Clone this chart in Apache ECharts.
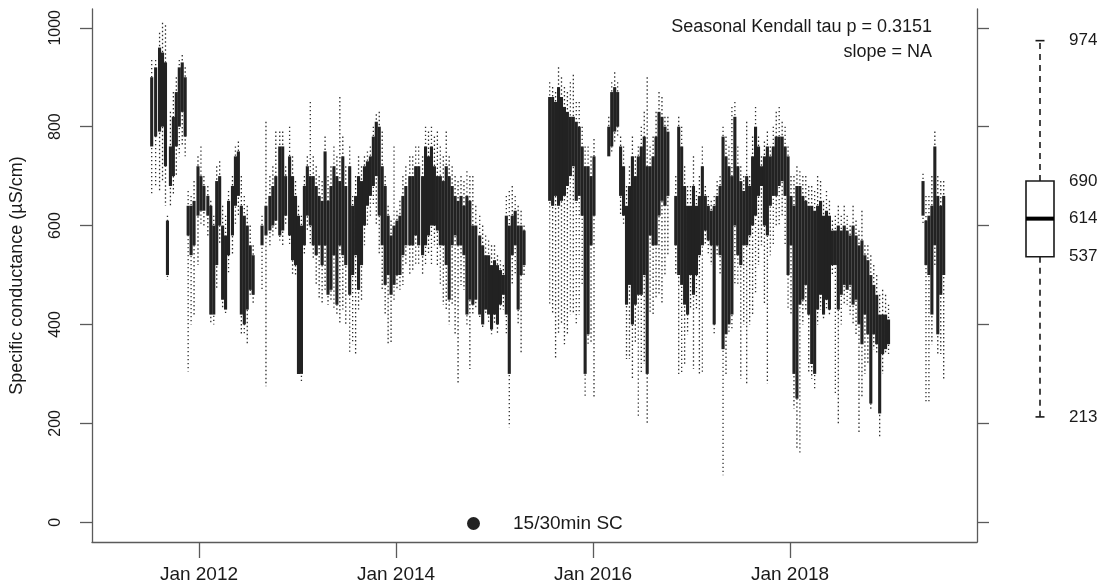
<!DOCTYPE html>
<html>
<head>
<meta charset="utf-8">
<script src="https://cdn.jsdelivr.net/npm/echarts@6/dist/echarts.min.js"></script>
<style>
  html, body { margin: 0; padding: 0; background: #fff; }
  #chart { width: 1108px; height: 588px; }
</style>
</head>
<body>
<div id="chart"></div>
<script>
// time position as decimal year
const yearPos = [
  2011.52, 2011.56, 2011.60, 2011.63, 2011.66, 2011.68, 2011.71, 2011.74, 2011.77, 2011.80,
  2011.83, 2011.86, 2011.89, 2011.92, 2011.95, 2011.99, 2012.02, 2012.05, 2012.09, 2012.12,
  2012.15, 2012.18, 2012.21, 2012.24, 2012.27, 2012.30, 2012.34, 2012.37, 2012.40, 2012.43,
  2012.46, 2012.49, 2012.52, 2012.55, 2012.64, 2012.68, 2012.72, 2012.75, 2012.78, 2012.82,
  2012.85, 2012.88, 2012.92, 2012.95, 2012.98, 2013.01, 2013.04, 2013.07, 2013.10, 2013.13,
  2013.16, 2013.19, 2013.22, 2013.25, 2013.28, 2013.31, 2013.34, 2013.37, 2013.40, 2013.43,
  2013.46, 2013.49, 2013.53, 2013.56, 2013.59, 2013.62, 2013.65, 2013.68, 2013.71, 2013.74,
  2013.77, 2013.80, 2013.83, 2013.86, 2013.89, 2013.92, 2013.95, 2013.98, 2014.01, 2014.04,
  2014.07, 2014.10, 2014.14, 2014.17, 2014.20, 2014.23, 2014.27, 2014.30, 2014.33, 2014.36,
  2014.39, 2014.42, 2014.45, 2014.48, 2014.51, 2014.54, 2014.57, 2014.60, 2014.63, 2014.66,
  2014.69, 2014.72, 2014.75, 2014.78, 2014.81, 2014.85, 2014.88, 2014.91, 2014.94, 2014.97,
  2015.00, 2015.03, 2015.06, 2015.09, 2015.12, 2015.15, 2015.18, 2015.21, 2015.24, 2015.27, 2015.30,
  2015.56, 2015.59, 2015.62, 2015.65, 2015.68, 2015.71, 2015.74, 2015.77, 2015.80, 2015.83,
  2015.86, 2015.89, 2015.92, 2015.95, 2015.98, 2016.01, 2016.16, 2016.19, 2016.22, 2016.25,
  2016.28, 2016.31, 2016.34, 2016.37, 2016.40, 2016.43, 2016.46, 2016.49, 2016.52, 2016.55,
  2016.58, 2016.61, 2016.64, 2016.67, 2016.70, 2016.73, 2016.76, 2016.84, 2016.87, 2016.90,
  2016.93, 2016.96, 2016.99, 2017.02, 2017.05, 2017.08, 2017.11, 2017.14, 2017.17, 2017.20,
  2017.23, 2017.26, 2017.29, 2017.32, 2017.35, 2017.38, 2017.41, 2017.44, 2017.47, 2017.50,
  2017.53, 2017.56, 2017.59, 2017.62, 2017.65, 2017.68, 2017.71, 2017.74, 2017.77, 2017.80,
  2017.83, 2017.86, 2017.89, 2017.92, 2017.95, 2017.98, 2018.01, 2018.04, 2018.07, 2018.10,
  2018.13, 2018.16, 2018.19, 2018.22, 2018.25, 2018.28, 2018.31, 2018.34, 2018.37, 2018.40,
  2018.43, 2018.46, 2018.49, 2018.52, 2018.55, 2018.58, 2018.61, 2018.64, 2018.67, 2018.70,
  2018.73, 2018.76, 2018.79, 2018.82, 2018.85, 2018.88, 2018.91, 2018.94, 2018.97, 2019.00,
  2019.35, 2019.38, 2019.41, 2019.44, 2019.47, 2019.50, 2019.53, 2019.56
];
// highest scattered readings in each slice (uS/cm)
const sparseTop = [
  935, 935, 990, 1010, 1005, 620, 830, 870, 900, 935,
  945, 920, 670, 660, 690, 740, 760, 700, 680, 650,
  620, 720, 730, 640, 620, 670, 700, 760, 770, 700,
  660, 640, 600, 560, 620, 810, 700, 720, 790, 790,
  790, 720, 800, 740, 690, 640, 620, 700, 740, 850,
  740, 720, 700, 690, 780, 700, 720, 760, 740, 860,
  780, 720, 760, 660, 700, 740, 720, 740, 750, 760,
  800, 825, 830, 790, 700, 640, 610, 760, 630, 650,
  700, 720, 740, 740, 760, 760, 740, 800, 790, 800,
  780, 790, 760, 740, 790, 740, 720, 700, 690, 700,
  690, 710, 700, 700, 640, 620, 600, 580, 570, 560,
  560, 540, 530, 520, 660, 670, 680, 660, 640, 630, 600,
  890, 880, 870, 920, 900, 880, 870, 890, 905, 850,
  850, 800, 760, 760, 740, 775, 820, 890, 910, 890,
  780, 760, 680, 720, 780, 740, 760, 800, 830, 900,
  760, 780, 830, 870, 860, 820, 820, 700, 820, 800,
  720, 680, 680, 740, 670, 700, 760, 680, 660, 650,
  660, 690, 700, 800, 780, 760, 840, 850, 760, 720,
  700, 810, 700, 780, 840, 780, 740, 770, 790, 760,
  800, 830, 840, 810, 800, 760, 700, 700, 720, 710,
  700, 700, 680, 680, 670, 700, 690, 650, 670, 650,
  610, 620, 640, 620, 640, 620, 600, 640, 610, 590,
  630, 560, 560, 540, 520, 500, 460, 470, 460, 440,
  705, 660, 660, 700, 790, 700, 690, 690
];
// top of the dense band of readings
const denseHigh = [
  900, 920, 960, 950, 930, 610, 760, 820, 870, 920,
  930, 900, 640, 640, 650, 720, 700, 680, 660, 640,
  600, 690, 700, 600, 580, 650, 680, 740, 750, 640,
  620, 600, 560, 540, 600, 640, 660, 680, 700, 760,
  760, 700, 740, 700, 660, 620, 600, 680, 720, 700,
  700, 680, 660, 650, 750, 650, 680, 720, 700, 690,
  740, 680, 720, 640, 660, 700, 690, 720, 730, 740,
  780, 810, 800, 720, 680, 620, 580, 600, 610, 620,
  660, 680, 700, 700, 720, 720, 700, 760, 740, 760,
  720, 700, 700, 690, 720, 700, 680, 660, 650, 660,
  640, 660, 650, 600, 600, 580, 560, 540, 540, 520,
  530, 520, 510, 500, 620, 600, 620, 630, 600, 600, 590,
  860, 860, 850, 880, 860, 840, 830, 820, 820, 810,
  800, 760, 720, 720, 700, 740, 800, 870, 880, 870,
  760, 720, 640, 680, 740, 700, 740, 760, 780, 720,
  720, 740, 780, 830, 820, 800, 790, 660, 800, 760,
  680, 640, 640, 680, 640, 660, 720, 660, 640, 630,
  640, 660, 680, 780, 740, 720, 700, 820, 720, 690,
  670, 700, 680, 740, 800, 760, 720, 740, 760, 740,
  760, 780, 780, 780, 760, 740, 660, 640, 680, 680,
  660, 650, 640, 640, 630, 640, 650, 620, 630, 620,
  590, 590, 600, 590, 600, 590, 580, 600, 580, 560,
  570, 540, 530, 500, 480, 460, 420, 420, 420, 410,
  690, 610, 620, 640, 760, 660, 640, 660
];
// bottom of the dense band of readings
const denseLow = [
  760, 780, 790, 800, 720, 500, 680, 700, 760, 800,
  830, 780, 580, 540, 560, 620, 630, 630, 620, 420,
  420, 520, 600, 450, 430, 540, 580, 640, 660, 420,
  400, 430, 470, 460, 560, 580, 590, 600, 610, 580,
  590, 620, 580, 530, 520, 300, 300, 560, 620, 600,
  560, 540, 560, 520, 560, 460, 470, 540, 440, 560,
  540, 520, 460, 500, 540, 470, 520, 600, 640, 660,
  680, 700, 620, 560, 480, 500, 460, 480, 500, 500,
  540, 560, 560, 560, 580, 560, 540, 560, 580, 600,
  600, 590, 560, 560, 520, 450, 560, 580, 560, 560,
  540, 420, 450, 440, 450, 420, 400, 430, 420, 390,
  420, 400, 440, 460, 420, 300, 540, 560, 430, 500, 520,
  650, 640, 660, 640, 650, 660, 680, 700, 720, 650,
  660, 620, 300, 380, 560, 620, 740, 760, 790, 800,
  660, 620, 440, 480, 400, 440, 460, 460, 500, 300,
  580, 560, 560, 620, 650, 640, 660, 560, 500, 480,
  440, 420, 500, 460, 500, 540, 560, 590, 570, 560,
  400, 560, 540, 350, 380, 400, 420, 600, 540, 520,
  560, 560, 580, 600, 620, 660, 680, 600, 580, 640,
  660, 660, 680, 690, 660, 500, 560, 300, 250, 440,
  450, 480, 420, 320, 300, 430, 460, 420, 450, 430,
  520, 520, 430, 460, 480, 470, 480, 440, 450, 400,
  360, 420, 380, 240, 380, 360, 220, 340, 350, 360,
  620, 520, 500, 420, 560, 380, 460, 500
];
// lowest scattered readings in each slice
const sparseBottom = [
  660, 680, 670, 690, 640, 490, 640, 660, 700, 740,
  760, 740, 305, 400, 420, 520, 600, 600, 580, 400,
  400, 470, 560, 430, 420, 500, 540, 600, 620, 380,
  380, 360, 460, 440, 470, 275, 560, 580, 590, 570,
  560, 600, 560, 500, 500, 300, 285, 540, 590, 560,
  530, 480, 450, 440, 470, 440, 450, 430, 420, 400,
  430, 400, 340, 360, 340, 430, 450, 560, 600, 620,
  640, 600, 540, 470, 420, 360, 360, 450, 470, 470,
  480, 520, 500, 510, 520, 520, 500, 520, 540, 520,
  560, 520, 480, 440, 430, 400, 440, 380, 280, 480,
  470, 400, 310, 420, 430, 410, 390, 420, 400, 380,
  400, 380, 430, 430, 380, 192, 480, 500, 400, 340, 500,
  440, 420, 330, 380, 400, 360, 380, 420, 420, 400,
  420, 480, 250, 360, 360, 250, 740, 750, 770, 780,
  620, 600, 330, 330, 290, 360, 210, 300, 320, 200,
  420, 420, 450, 460, 440, 500, 540, 500, 300, 300,
  320, 380, 430, 310, 430, 300, 300, 560, 540, 520,
  380, 540, 500, 95, 300, 380, 390, 480, 480, 290,
  400, 280, 400, 420, 460, 520, 560, 440, 280, 540,
  560, 600, 600, 620, 560, 430, 420, 230, 150, 140,
  400, 430, 300, 290, 270, 400, 430, 410, 430, 420,
  500, 260, 200, 400, 440, 440, 420, 400, 380, 180,
  250, 300, 320, 225, 350, 340, 170, 300, 340, 340,
  600, 240, 240, 360, 520, 340, 340, 290
];

// min, Q1, median, Q3, max
const boxStats = [213, 537, 614, 690, 974];
const yTicks = [0, 200, 400, 600, 800, 1000];
const xTicks = [2012, 2014, 2016, 2018];
const seriesName = '15/30min SC';
const statLines = ['Seasonal Kendall tau p = 0.3151', 'slope = NA'];

const FONT = '"Liberation Sans", Arial, Helvetica, sans-serif';
const INK = '#1a1a1a';
const AXIS = '#5a5a5a';

const chart = echarts.init(document.getElementById('chart'));

const pointData = yearPos.map((t, i) => [t, sparseTop[i], denseHigh[i], denseLow[i], sparseBottom[i]]);

function renderReadings(params, api) {
  const t = api.value(0);
  const top = api.coord([t, api.value(1)]);
  const hi = api.coord([t, api.value(2)]);
  const lo = api.coord([t, api.value(3)]);
  const bot = api.coord([t, api.value(4)]);
  return {
    type: 'group',
    children: [
      { type: 'line', shape: { x1: top[0], y1: top[1], x2: bot[0], y2: bot[1] },
        style: { stroke: '#2e2e2e', lineWidth: 1.3, lineDash: [1.4, 2.6] } },
      { type: 'line', shape: { x1: hi[0], y1: hi[1], x2: lo[0], y2: lo[1] },
        style: { stroke: '#222', lineWidth: 3.1 } }
    ]
  };
}

function renderBox(params, api) {
  const cx = api.coord([api.value(0), 0])[0];
  const y = (k) => api.coord([api.value(0), api.value(k)])[1];
  const yMin = y(1), yQ1 = y(2), yMed = y(3), yQ3 = y(4), yMax = y(5);
  const hw = 14, cap = 4.5;
  const dash = { stroke: INK, lineWidth: 1.6, lineDash: [6, 5] };
  const solid = { stroke: INK, lineWidth: 1.6 };
  const children = [
    { type: 'line', shape: { x1: cx, y1: yQ3, x2: cx, y2: yMax }, style: dash },
    { type: 'line', shape: { x1: cx, y1: yQ1, x2: cx, y2: yMin }, style: dash },
    { type: 'line', shape: { x1: cx - cap, y1: yMax, x2: cx + cap, y2: yMax }, style: solid },
    { type: 'line', shape: { x1: cx - cap, y1: yMin, x2: cx + cap, y2: yMin }, style: solid },
    { type: 'rect', shape: { x: cx - hw, y: yQ3, width: hw * 2, height: yQ1 - yQ3 },
      style: { fill: '#fff', stroke: INK, lineWidth: 1.6 } },
    { type: 'line', shape: { x1: cx - hw, y1: yMed, x2: cx + hw, y2: yMed },
      style: { stroke: '#000', lineWidth: 4 } }
  ];
  [1, 2, 3, 4, 5].forEach((k) => {
    children.push({
      type: 'text', x: cx + 29, y: y(k),
      style: { text: String(api.value(k)), fontSize: 17, fontFamily: FONT, fill: INK,
               align: 'left', verticalAlign: 'middle' }
    });
  });
  return { type: 'group', children };
}

const option = {
  animation: false,
  backgroundColor: '#fff',
  textStyle: { fontFamily: FONT, color: INK },
  grid: [
    { left: 92, right: 131, top: 9, bottom: 46 },
    { left: 1000, width: 80, top: 9, bottom: 46 }
  ],
  legend: {
    data: [{ name: seriesName, icon: 'circle' }],
    left: 462, top: 509,
    itemWidth: 13, itemHeight: 13,
    selectedMode: false,
    textStyle: { fontSize: 19, color: INK, fontFamily: FONT, padding: [0, 0, 0, 28] }
  },
  xAxis: [
    {
      gridIndex: 0, type: 'value', min: 2010.914, max: 2019.898,
      axisLine: { show: true, onZero: false, lineStyle: { color: AXIS, width: 1.3 } },
      axisTick: { show: true, length: 16, customValues: xTicks, lineStyle: { color: AXIS, width: 1.3 } },
      axisLabel: { customValues: xTicks, formatter: (v) => 'Jan ' + v, fontSize: 19,
                   color: INK, margin: 23, fontFamily: FONT },
      splitLine: { show: false }
    },
    { gridIndex: 1, type: 'value', min: 0, max: 1, show: false }
  ],
  yAxis: [
    {
      gridIndex: 0, type: 'value', min: -40, max: 1038, position: 'left',
      axisLine: { show: true, lineStyle: { color: AXIS, width: 1.3 } },
      axisTick: { show: true, length: 12, customValues: yTicks, lineStyle: { color: AXIS, width: 1.3 } },
      axisLabel: { customValues: yTicks, formatter: (v) => String(v), rotate: 90, fontSize: 16,
                   color: INK, margin: 28, fontFamily: FONT },
      splitLine: { show: false },
      name: 'Specific conductance (µS/cm)', nameLocation: 'middle', nameGap: 66,
      nameTextStyle: { fontSize: 18, color: INK, fontFamily: FONT }
    },
    {
      gridIndex: 0, type: 'value', min: -40, max: 1038, position: 'right',
      axisLine: { show: true, lineStyle: { color: AXIS, width: 1.3 } },
      axisTick: { show: true, length: 12, customValues: yTicks, lineStyle: { color: AXIS, width: 1.3 } },
      axisLabel: { show: false },
      splitLine: { show: false }
    },
    { gridIndex: 1, type: 'value', min: -40, max: 1038, show: false }
  ],
  graphic: statLines.map((txt, i) => ({
    type: 'text', x: 932, y: 27 + i * 25,
    style: { text: txt, fontSize: 18, fontFamily: FONT, fill: INK, align: 'right', verticalAlign: 'middle' }
  })),
  series: [
    {
      name: seriesName, type: 'custom', xAxisIndex: 0, yAxisIndex: 0, clip: true, silent: true,
      itemStyle: { color: '#222' },
      encode: { x: 0, y: [1, 2, 3, 4] },
      data: pointData,
      renderItem: renderReadings
    },
    {
      name: 'box', type: 'custom', xAxisIndex: 1, yAxisIndex: 2, silent: true,
      encode: { x: 0, y: [1, 2, 3, 4, 5] },
      data: [[0.5].concat(boxStats)],
      renderItem: renderBox
    }
  ]
};

chart.setOption(option);
</script>
</body>
</html>
